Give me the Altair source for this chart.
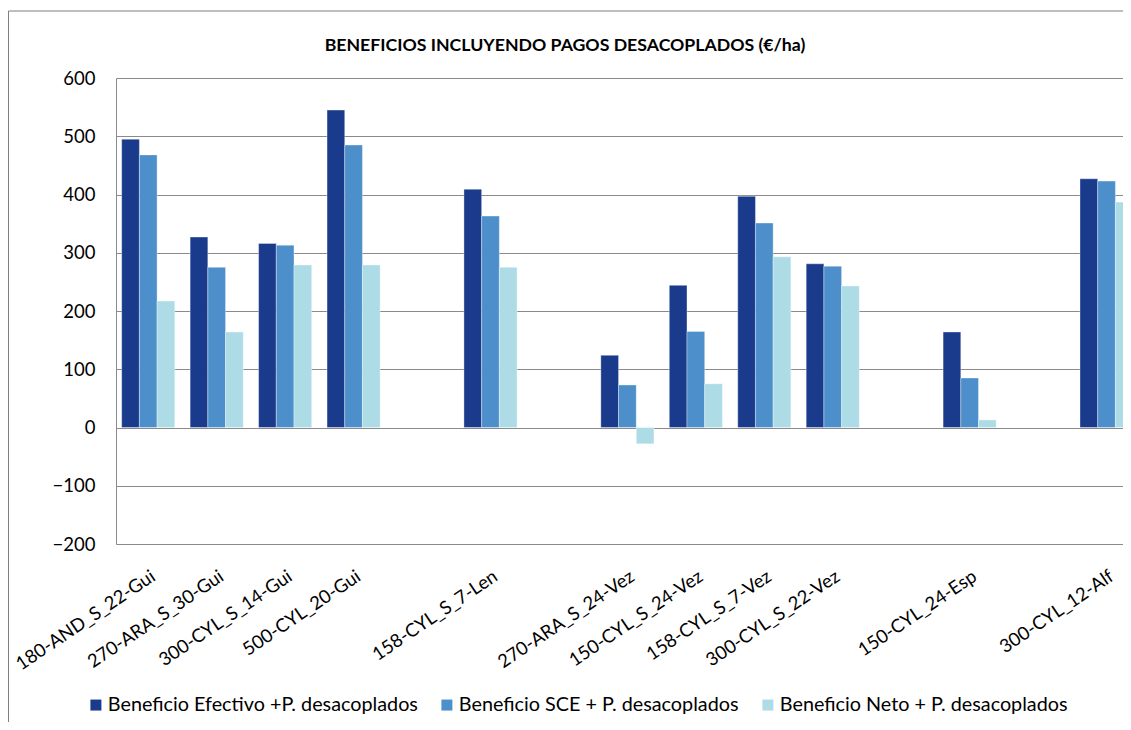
import altair as alt
import pandas as pd

# ---- data ----
categories = ["180-AND_S_22-Gui", "270-ARA_S_30-Gui", "300-CYL_S_14-Gui", "500-CYL_20-Gui", " ",
              "158-CYL_S_7-Len", "  ", "270-ARA_S_24-Vez", "150-CYL_S_24-Vez", "158-CYL_S_7-Vez",
              "300-CYL_S_22-Vez", "   ", "150-CYL_24-Esp", "    ", "300-CYL_12-Alf"]
efectivo = [495, 327, 316, 545, None, 409, None, 124, 244, 397, 281, None, 164, None, 427]
sce = [468, 275, 313, 485, None, 363, None, 73, 165, 351, 277, None, 85, None, 423]
neto = [217, 164, 279, 279, None, 275, None, -28, 75, 293, 243, None, 13, None, 387]
series = ["Beneficio Efectivo +P. desacoplados",
          "Beneficio SCE + P. desacoplados",
          "Beneficio Neto + P. desacoplados"]
colors = ["#1A3A8B", "#4D8FCA", "#ADDCE6"]
y_ticks = [-200, -100, 0, 100, 200, 300, 400, 500, 600]
title = "BENEFICIOS INCLUYENDO PAGOS DESACOPLADOS (€/ha)"

rows = []
for s, vals in zip(series, [efectivo, sce, neto]):
    for c, v in zip(categories, vals):
        if v is not None:
            rows.append({"cat": c, "serie": s, "valor": v})
df = pd.DataFrame(rows)

FONT = "Lato"
PLOT_W = 1007
PLOT_H = 466

bars = alt.Chart(df).mark_bar(stroke="white", strokeWidth=0.6, strokeOpacity=0.6).encode(
    x=alt.X("cat:N", sort=categories,
            scale=alt.Scale(domain=categories, range=[0, 1022.8], paddingInner=0.224, paddingOuter=0.083),
            axis=alt.Axis(title=None, labelAngle=-34, labelAlign="right", labelBaseline="middle",
                          labelPadding=30, labelOffset=5, domain=False, ticks=False, grid=False,
                          labelFont=FONT, labelFontSize=18.5, labelColor="#000000", labelLimit=400)),
    xOffset=alt.XOffset("serie:N", sort=series, scale=alt.Scale(domain=series)),
    y=alt.Y("valor:Q", scale=alt.Scale(domain=[-200, 600], nice=False, zero=False),
            axis=alt.Axis(title=None, values=y_ticks, grid=True, gridColor="#8A8A8A", gridWidth=1,
                          domain=True, domainColor="#8A8A8A", ticks=False, tickSize=0,
                          labelPadding=21, labelFont=FONT, labelFontSize=18.5, labelColor="#000000")),
    color=alt.Color("serie:N", sort=series, scale=alt.Scale(domain=series, range=colors),
                    legend=alt.Legend(title=None, orient="none", direction="horizontal",
                                      legendX=-30, legendY=617, symbolType="square", symbolSize=121,
                                      symbolStrokeWidth=0, labelFont=FONT, labelFontSize=19.8,
                                      labelColor="#000000", columnPadding=19, labelOffset=2,
                                      padding=0, labelLimit=500)),
)

frame = alt.Chart(pd.DataFrame({"a": [0]})).mark_rect(fill=None, stroke="#7F7F7F", strokeWidth=1).encode(
    x=alt.value(-107.5), x2=alt.value(1400), y=alt.value(-67), y2=alt.value(1000)
)

heading = alt.Chart(pd.DataFrame({"t": [title]})).mark_text(
    font=FONT, fontSize=17.7, fontWeight="bold", color="#000000", align="center", baseline="middle"
).encode(text="t:N", x=alt.value(449), y=alt.value(-32))

chart = alt.layer(frame, bars, heading).properties(
    width=PLOT_W, height=PLOT_H,
    autosize=alt.AutoSizeParams(type="none"),
    padding={"left": 108, "top": 70, "right": 0, "bottom": 178},
).configure_view(stroke=None)

chart.save("out.html", embed_options={"renderer": "svg", "actions": False})
